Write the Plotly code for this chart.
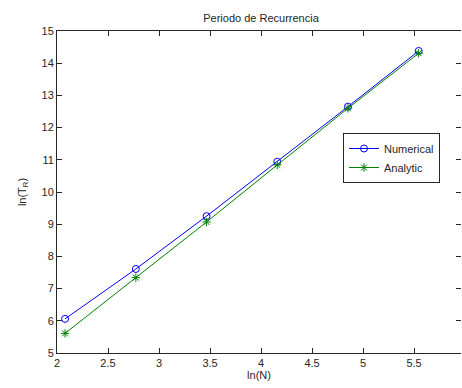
import numpy as np
import plotly.graph_objects as go

# Data: ln(N) for N = 8 ... 256
ln_n = [2.079, 2.773, 3.466, 4.159, 4.852, 5.545]
numerical = [6.06, 7.61, 9.25, 10.94, 12.65, 14.38]
analytic = [5.61, 7.34, 9.07, 10.84, 12.60, 14.31]
x_ticks = [2, 2.5, 3, 3.5, 4, 4.5, 5, 5.5]
x_tick_labels = ["2", "2.5", "3", "3.5", "4", "4.5", "5", "5.5"]
y_ticks = list(range(5, 16))

FONT = "Liberation Sans, Arial, sans-serif"

fig = go.Figure()
fig.add_trace(go.Scatter(
    x=ln_n, y=numerical, name="Numerical", mode="lines+markers",
    line=dict(color="#0000ff", width=1),
    marker=dict(symbol="circle-open", size=7, color="#0000ff", line=dict(width=1)),
))
fig.add_trace(go.Scatter(
    x=ln_n, y=analytic, name="Analytic", mode="lines+markers",
    line=dict(color="#008000", width=1),
    marker=dict(symbol="asterisk-open", size=7, color="#008000", line=dict(width=1, color="#008000")),
))
# invisible trace to anchor the right-side tick axis
fig.add_trace(go.Scatter(x=[ln_n[0]], y=[numerical[0]], yaxis="y2", mode="markers",
                         marker=dict(opacity=0), showlegend=False, hoverinfo="skip"))

axis_common = dict(
    showgrid=False, zeroline=False, showline=True, linecolor="#262626", linewidth=1,
    ticks="inside", ticklen=5, tickcolor="#262626", tickwidth=1,
    tickfont=dict(family=FONT, size=11, color="#262626"),
)

fig.update_layout(
    width=462, height=388,
    margin=dict(l=57, r=1, t=31, b=35),
    paper_bgcolor="white", plot_bgcolor="white",
    font=dict(family=FONT, size=11, color="#262626"),
    title=dict(text="Periodo de Recurrencia", x=(57 + 465) / 2 / 462, xanchor="center",
               y=1 - 18 / 388, yanchor="middle", font=dict(family=FONT, size=11, color="#262626")),
    xaxis=dict(range=[2, 5.96], tickvals=x_ticks, ticktext=x_tick_labels, mirror="ticks",
               title=dict(text="ln(N)", standoff=0, font=dict(family=FONT, size=11)),
               **axis_common),
    yaxis=dict(range=[5, 15], tickvals=y_ticks, mirror=False,
               title=dict(text="ln(T<sub>R</sub>)", standoff=12, font=dict(family=FONT, size=11)),
               **axis_common),
    yaxis2=dict(range=[5, 15], overlaying="y", side="right", matches="y", tickvals=y_ticks,
                showticklabels=False, showgrid=False, zeroline=False, showline=False,
                ticks="inside", ticklen=5, tickcolor="#262626", tickwidth=1),
    legend=dict(x=(343 - 57) / 404, y=(353 - 133) / 322, xanchor="left", yanchor="top",
                bordercolor="#262626", borderwidth=1, bgcolor="white",
                font=dict(family=FONT, size=11, color="#262626"),
                tracegroupgap=0, itemwidth=30),
    showlegend=True,
)

fig.write_html("out.html")
